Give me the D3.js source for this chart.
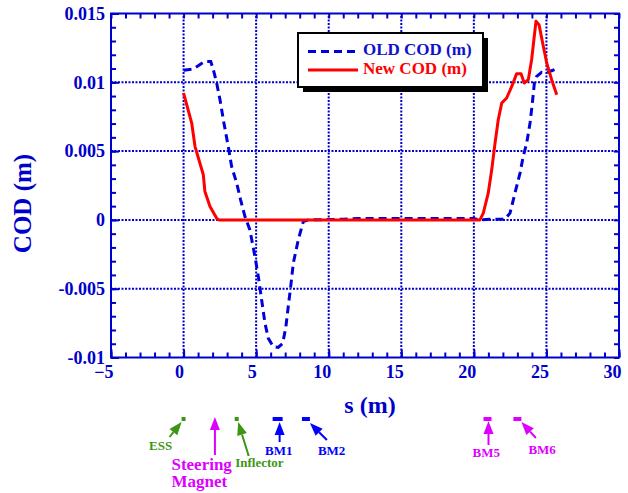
<!DOCTYPE html>
<html>
<head>
<meta charset="utf-8">
<script src="https://cdn.jsdelivr.net/npm/d3@7"></script>
<style>
body { margin: 0; background: #fff; }
text { font-family: "Liberation Serif", "Times New Roman", serif; font-weight: bold; }
</style>
</head>
<body>
<div id="chart"></div>
<script>
// axis ticks
var sTicks = [-5, 0, 5, 10, 15, 20, 25, 30];
var codTicks = [-0.01, -0.005, 0, 0.005, 0.01, 0.015];
var codLabels = ["-0.01", "-0.005", "0", "0.005", "0.01", "0.015"];

// OLD COD (m)
var oldS = [0, 0.67, 1.47, 1.87, 2.05, 2.28, 2.51, 2.78, 3.08, 3.31, 3.66, 3.93, 4.23, 4.57, 4.92,
    5.15, 5.38, 5.61, 5.84, 6.18, 6.52, 6.83, 7.05, 7.21, 7.38, 7.56, 7.9, 8.25, 8.6, 11, 12, 20,
    20.42, 21.1, 22.14, 22.49, 22.83, 23.18, 23.4, 23.64, 23.87, 24.03, 24.17, 24.33, 24.67, 25.02,
    25.36, 25.75];
var oldCod = [0.01087, 0.01097, 0.01152, 0.01152, 0.01092, 0.00995, 0.00873, 0.00704, 0.00533,
    0.00388, 0.00267, 0.00146, 0.00024, -0.00073, -0.00267, -0.00412, -0.00582, -0.00752, -0.00861,
    -0.00922, -0.00927, -0.00897, -0.00776, -0.00631, -0.00485, -0.00315, -0.00146, -0.00012, 0,
    0.00005, 0.0001, 0.0001, 0, 0.00005, 0.00005, 0.00049, 0.00194, 0.0034, 0.0046, 0.00558,
    0.00704, 0.00849, 0.00995, 0.01043, 0.01072, 0.01068, 0.01084, 0.01099];

// New COD (m)
var newS = [0, 0.56, 0.79, 1.36, 1.47, 1.82, 2.32, 2.45, 20.42, 20.65, 20.99, 21.23, 21.46, 21.68,
    21.92, 22.26, 22.61, 22.95, 23.25, 23.47, 23.75, 23.98, 24.28, 24.49, 24.74, 25.02, 25.36, 25.71];
var newCod = [0.00922, 0.00704, 0.00533, 0.00328, 0.00206, 0.00097, 0.00005, 0, 0, 0.00049, 0.00194,
    0.00364, 0.00558, 0.00728, 0.00849, 0.00886, 0.0097, 0.01063, 0.01063, 0.00995, 0.01019,
    0.01164, 0.01443, 0.01419, 0.01286, 0.0114, 0.01019, 0.0091];

var seriesNames = ["OLD COD (m)", "New COD (m)"];

// beam line elements along s
var markerLabels = [["ESS"], ["Steering", "Magnet"], ["Inflector"], ["BM1"], ["BM2"], ["BM5"], ["BM6"]];
var markerS = [0, 2.16, 3.66, 6.48, 8.43, 20.94, 23.0];

var blue = "#0000cc";
var green = "#3c9614";
var magenta = "#dd00ff";

// look of each marker: box size, arrow tail/tip (dx from marker, y), label (dx, baseline)
var markerStyle = [
    {color: green, box: [4, 4], tail: [-14, 437], tip: [-2, 422], label: [-34.5, 450], size: 13},
    {color: magenta, box: null, tail: [0, 455], tip: [0, 417], label: [-43.5, 470], size: 17},
    {color: green, box: [4, 4], tail: [12, 456], tip: [1.5, 422], label: [-1.5, 467], size: 13},
    {color: "#0000ff", box: [10, 4], tail: [2, 442], tip: [2, 422], label: [-12.5, 455], size: 13},
    {color: "#0000ff", box: [8, 4], tail: [21, 440], tip: [4, 423], label: [12, 455], size: 13},
    {color: magenta, box: [8, 4], tail: [1, 445], tip: [1, 421], label: [-15, 457], size: 13},
    {color: magenta, box: [8, 4], tail: [18.5, 438], tip: [4, 422], label: [11, 454], size: 13}
];

var width = 628, height = 493;
var svg = d3.select("#chart").append("svg")
    .attr("width", width)
    .attr("height", height);

var x = d3.scaleLinear().domain([-5, 30]).range([111, 619]);
var y = d3.scaleLinear().domain([-0.01, 0.015]).range([357.5, 13.5]);

// grid
var grid = svg.append("g")
    .attr("stroke", blue)
    .attr("stroke-width", 2)
    .attr("stroke-dasharray", "2,1.5");
grid.selectAll(".vg").data(sTicks.slice(1, -1)).enter().append("line")
    .attr("x1", d => x(d)).attr("x2", d => x(d))
    .attr("y1", y.range()[0]).attr("y2", y.range()[1]);
grid.selectAll(".hg").data(codTicks.slice(1, -1)).enter().append("line")
    .attr("y1", d => y(d)).attr("y2", d => y(d))
    .attr("x1", x.range()[0]).attr("x2", x.range()[1]);

// minor ticks
var sMinor = d3.range(-5, 31, 1);
var codMinor = d3.range(-10, 16, 1).map(d => d / 1000);

function styleAxis(g) {
    g.select(".domain").remove();
    g.attr("color", blue)
        .attr("font-size", 18)
        .attr("font-family", "Liberation Serif, Times New Roman, serif")
        .attr("font-weight", "bold");
    g.selectAll("line").attr("stroke-width", 2);
}

var x0 = x.range()[0], x1 = x.range()[1], y0 = y.range()[0], y1 = y.range()[1];

svg.append("g").attr("transform", "translate(0," + y0 + ")")
    .call(d3.axisBottom(x).tickValues(sMinor).tickSize(-5).tickFormat("")).call(styleAxis);
svg.append("g").attr("transform", "translate(0," + y1 + ")")
    .call(d3.axisTop(x).tickValues(sMinor).tickSize(-5).tickFormat("")).call(styleAxis);
svg.append("g").attr("transform", "translate(" + x0 + ",0)")
    .call(d3.axisLeft(y).tickValues(codMinor).tickSize(-5).tickFormat("")).call(styleAxis);
svg.append("g").attr("transform", "translate(" + x1 + ",0)")
    .call(d3.axisRight(y).tickValues(codMinor).tickSize(-5).tickFormat("")).call(styleAxis);

// major ticks with labels
var xAxis = svg.append("g").attr("transform", "translate(0," + y0 + ")")
    .call(d3.axisBottom(x).tickValues(sTicks).tickSize(-8).tickPadding(8).tickFormat(d3.format("d")))
    .call(styleAxis);
xAxis.selectAll("text")
    .attr("text-anchor", "end")
    .attr("dx", d => String(d).length > 1 ? 2 : 0);

svg.append("g").attr("transform", "translate(" + x0 + ",0)")
    .call(d3.axisLeft(y).tickValues(codTicks).tickSize(-8).tickPadding(6)
        .tickFormat((d, i) => codLabels[i]))
    .call(styleAxis);

// frame
svg.append("rect")
    .attr("x", x0).attr("y", y1)
    .attr("width", x1 - x0).attr("height", y0 - y1)
    .attr("fill", "none")
    .attr("stroke", blue)
    .attr("stroke-width", 2);

// curves
var line = d3.line().x(d => x(d[0])).y(d => y(d[1]));

svg.append("path")
    .datum(oldS.map((s, i) => [s, oldCod[i]]))
    .attr("d", line)
    .attr("fill", "none")
    .attr("stroke", "#0000dd")
    .attr("stroke-width", 3)
    .attr("stroke-dasharray", "8,5");

svg.append("path")
    .datum(newS.map((s, i) => [s, newCod[i]]))
    .attr("d", line)
    .attr("fill", "none")
    .attr("stroke", "#ff0000")
    .attr("stroke-width", 3)
    .attr("stroke-linejoin", "round");

// legend
var legend = svg.append("g");
legend.append("rect")
    .attr("x", 303).attr("y", 38).attr("width", 185).attr("height", 54)
    .attr("fill", "#000");
legend.append("rect")
    .attr("x", 298).attr("y", 33).attr("width", 185).attr("height", 54)
    .attr("fill", "#fff").attr("stroke", "#000").attr("stroke-width", 2);

var legColors = ["#0000dd", "#ff0000"];
var legDash = ["8,5", null];
seriesNames.forEach(function (name, i) {
    var ly = 51.5 + i * 18.5;
    legend.append("line")
        .attr("x1", 308).attr("x2", 358)
        .attr("y1", ly).attr("y2", ly)
        .attr("stroke", legColors[i])
        .attr("stroke-width", 3)
        .attr("stroke-dasharray", legDash[i]);
    legend.append("text")
        .attr("x", 363).attr("y", ly + 3.5)
        .attr("font-size", 17)
        .attr("fill", i === 0 ? "#1010cc" : "#ff0000")
        .text(name);
});

// axis titles
svg.append("text")
    .attr("x", 370).attr("y", 413)
    .attr("text-anchor", "middle")
    .attr("font-size", 24)
    .attr("fill", blue)
    .text("s (m)");

svg.append("text")
    .attr("transform", "translate(31,203.5) rotate(-90)")
    .attr("text-anchor", "middle")
    .attr("font-size", 25)
    .attr("fill", blue)
    .text("COD (m)");

// element markers with arrows
function drawArrow(g, xa, ya, xb, yb, color) {
    var dx = xb - xa, dy = yb - ya;
    var len = Math.sqrt(dx * dx + dy * dy);
    var ux = dx / len, uy = dy / len;
    var hl = 13, hw = 5;
    var bx = xb - ux * hl, by = yb - uy * hl;
    g.append("line")
        .attr("x1", xa).attr("y1", ya).attr("x2", bx).attr("y2", by)
        .attr("stroke", color).attr("stroke-width", 2);
    g.append("path")
        .attr("d", "M" + xb + "," + yb +
            "L" + (bx - uy * hw) + "," + (by + ux * hw) +
            "L" + (bx + uy * hw) + "," + (by - ux * hw) + "Z")
        .attr("fill", color);
}

var markers = svg.append("g");
markerS.forEach(function (s, i) {
    var st = markerStyle[i];
    var cx = x(s);
    if (st.box) {
        markers.append("rect")
            .attr("x", cx - st.box[0] / 2).attr("y", 417)
            .attr("width", st.box[0]).attr("height", st.box[1])
            .attr("fill", st.color);
    }
    drawArrow(markers, cx + st.tail[0], st.tail[1], cx + st.tip[0], st.tip[1], st.color);
    markerLabels[i].forEach(function (t, j) {
        markers.append("text")
            .attr("x", cx + st.label[0])
            .attr("y", st.label[1] + j * 17)
            .attr("font-size", st.size)
            .attr("fill", st.color)
            .text(t);
    });
});
</script>
</body>
</html>
